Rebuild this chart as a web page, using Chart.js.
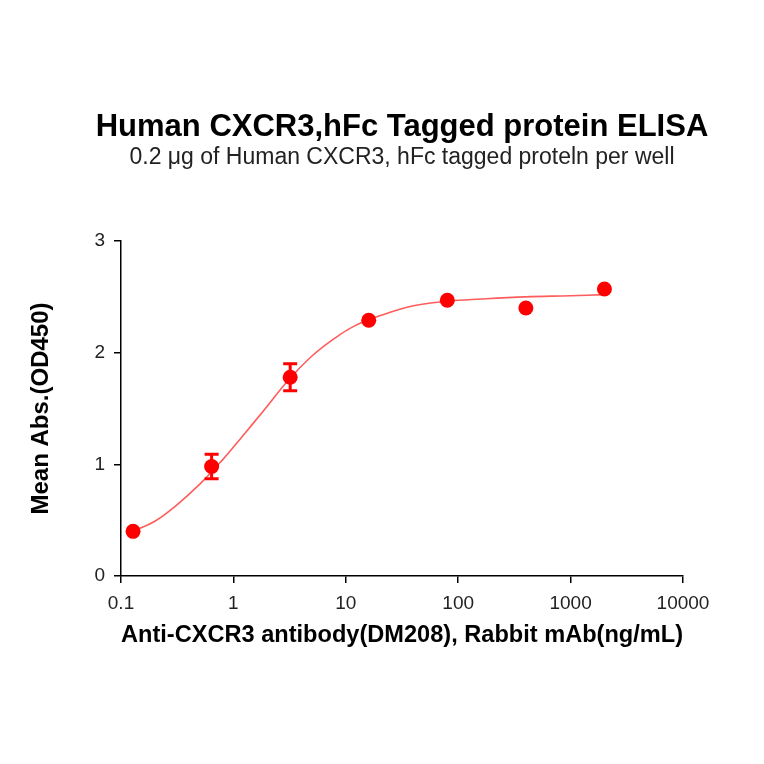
<!DOCTYPE html>
<html>
<head>
<meta charset="utf-8">
<script src="https://cdn.jsdelivr.net/npm/chart.js@4.4.1/dist/chart.umd.min.js"></script>
<style>
  html,body{margin:0;padding:0;background:#fff;}
  #wrap{width:764px;height:764px;position:relative;}
</style>
</head>
<body>
<div id="wrap"><canvas id="c" width="764" height="764"></canvas></div>
<script>
// measured points (mean +/- error)
const conc = [0.128, 0.64, 3.2, 16, 80, 400, 2000];
const meanAbs = [0.40, 0.98, 1.78, 2.29, 2.47, 2.40, 2.57];
const errBar = [0, 0.11, 0.12, 0, 0, 0, 0];

// fitted curve
const curveX = [0.128, 0.2, 0.3, 0.5, 0.8, 1.2, 2, 3, 5, 8, 12, 20, 40, 80, 160, 400, 1000, 2000];
const curveY = [0.40, 0.49, 0.62, 0.82, 1.04, 1.25, 1.52, 1.74, 1.97, 2.13, 2.24, 2.33, 2.42, 2.46, 2.48, 2.50, 2.51, 2.52];

const xTicks = [0.1, 1, 10, 100, 1000, 10000];
const yTicks = [0, 1, 2, 3];

const titleText = 'Human CXCR3,hFc Tagged protein ELISA';
const subText = '0.2 \u03bcg of Human CXCR3, hFc tagged proteln per well';
const xTitle = 'Anti-CXCR3 antibody(DM208), Rabbit mAb(ng/mL)';
const yTitle = 'Mean Abs.(OD450)';

const FONT = '"Liberation Sans", Arial, sans-serif';
const RED = '#ff0000';

const headings = {
  id:'headings',
  afterDraw(ch){
    const {ctx, chartArea} = ch;
    const cx = (chartArea.left + chartArea.right)/2;
    ctx.save();
    ctx.fillStyle = '#000'; ctx.textAlign = 'center'; ctx.textBaseline = 'middle';
    ctx.font = 'bold 31px ' + FONT;
    ctx.fillText(titleText, cx, 127);
    ctx.fillStyle = '#222';
    ctx.font = '23px ' + FONT;
    ctx.fillText(subText, cx, 158);
    ctx.restore();
  }
};

const errorBars = {
  id:'errorBars',
  afterDatasetsDraw(ch){
    const {ctx} = ch;
    const xs = ch.scales.x, ys = ch.scales.y;
    ctx.save();
    ctx.strokeStyle = RED; ctx.lineWidth = 3;
    conc.forEach((c,i)=>{
      const e = errBar[i];
      if(!e) return;
      const px = xs.getPixelForValue(c);
      const top = ys.getPixelForValue(meanAbs[i]+e), bot = ys.getPixelForValue(meanAbs[i]-e);
      ctx.beginPath();
      ctx.moveTo(px, top); ctx.lineTo(px, bot);
      ctx.moveTo(px-7, top); ctx.lineTo(px+7, top);
      ctx.moveTo(px-7, bot); ctx.lineTo(px+7, bot);
      ctx.stroke();
    });
    ctx.restore();
  }
};

new Chart(document.getElementById('c'), {
  type:'scatter',
  data:{
    datasets:[
      { label:'fit', data: curveX.map((x,i)=>({x, y:curveY[i]})), showLine:true, pointRadius:0,
        borderColor:'#ff5c5c', borderWidth:1.6, tension:0.4, order:2 },
      { label:'data', data: conc.map((x,i)=>({x, y:meanAbs[i]})), pointRadius:7.5, pointHoverRadius:7.5,
        backgroundColor:RED, borderColor:RED, borderWidth:0, order:1 }
    ]
  },
  options:{
    responsive:false, animation:false, devicePixelRatio:1,
    layout:{padding:{top:241, right:81, left:0, bottom:0}},
    plugins:{legend:{display:false}, tooltip:{enabled:false}},
    scales:{
      x:{
        type:'logarithmic', min:0.1, max:10000,
        afterBuildTicks: s => { s.ticks = xTicks.map(v=>({value:v})); },
        afterFit: s => { s.height = 188; },
        ticks:{ color:'#222', font:{family:FONT, size:19}, padding:9, maxRotation:0, autoSkip:false,
          callback: v => String(v) },
        grid:{ display:true, drawOnChartArea:false, drawTicks:true, tickLength:7, color:'#000', lineWidth:1.5 },
        border:{ display:true, color:'#000', width:1.5 },
        title:{ display:true, text:xTitle, color:'#000', font:{family:FONT, size:24, weight:'bold'}, padding:{top:0, bottom:114} }
      },
      y:{
        min:0, max:3,
        afterBuildTicks: s => { s.ticks = yTicks.map(v=>({value:v})); },
        afterFit: s => { s.width = 121; },
        ticks:{ color:'#222', font:{family:FONT, size:19}, padding:9 },
        grid:{ display:true, drawOnChartArea:false, drawTicks:true, tickLength:7, color:'#000', lineWidth:1.5 },
        border:{ display:true, color:'#000', width:1.5 },
        title:{ display:true, text:yTitle, color:'#000', font:{family:FONT, size:24, weight:'bold'}, padding:{top:27, bottom:0} }
      }
    }
  },
  plugins:[headings, errorBars]
});
</script>
</body>
</html>
